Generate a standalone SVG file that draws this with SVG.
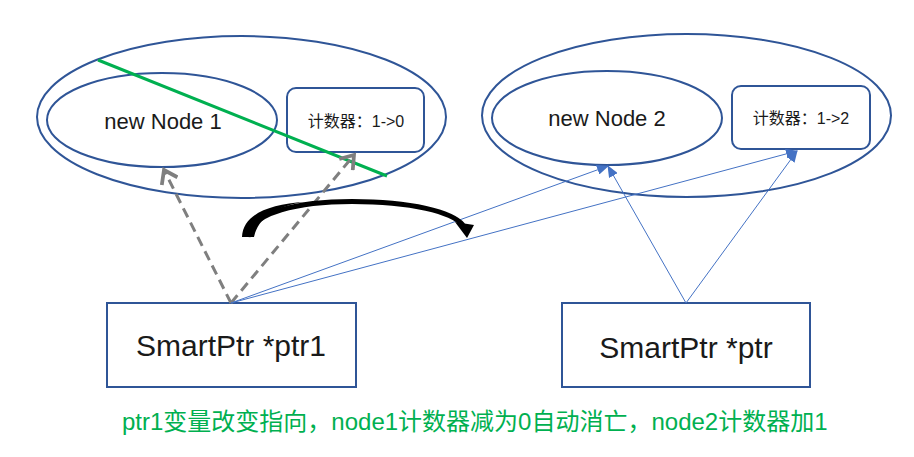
<svg xmlns="http://www.w3.org/2000/svg" width="914" height="457" viewBox="0 0 914 457">
<defs>
<style>
.shape{fill:#FFFFFF;stroke:#2F5597;stroke-width:2}
.lbl{font-family:"Liberation Sans","Noto Sans CJK SC",sans-serif;fill:#1A1A1A;text-anchor:middle}
.dash{fill:none;stroke:#7F7F7F;stroke-width:3;stroke-dasharray:10,6}
.blue{fill:none;stroke:#4472C4;stroke-width:1}
.note{font-family:"Liberation Sans","Noto Sans CJK SC",sans-serif;fill:#00B050}
</style>
<marker id="openArrow" markerUnits="userSpaceOnUse" markerWidth="20" markerHeight="20" refX="12" refY="8" orient="auto" viewBox="0 0 16 16">
<path d="M2,1 L12,8 L2,15" fill="none" stroke="#7F7F7F" stroke-width="3"/>
</marker>
<marker id="blueArrow" markerUnits="userSpaceOnUse" markerWidth="12" markerHeight="10" refX="11" refY="5" orient="auto" viewBox="0 0 12 10">
<path d="M0,0 L12,5 L0,10 Z" fill="#4472C4"/>
</marker>
</defs>
<rect width="914" height="457" fill="#FFFFFF"/>

<g id="node1-group">
<ellipse class="shape" cx="241.5" cy="117" rx="204.5" ry="81"/>
<g id="node1">
<ellipse class="shape" cx="162" cy="120" rx="115" ry="47"/>
<text class="lbl" x="163" y="129" font-size="22">new Node 1</text>
</g>
<g id="counter1">
<rect class="shape" x="287" y="88" width="137" height="64" rx="9"/>
<text class="lbl" x="356" y="127" font-size="16">计数器：1-&gt;0</text>
</g>
</g>

<g id="node2-group">
<ellipse class="shape" cx="686.5" cy="115.5" rx="204.5" ry="81.5"/>
<g id="node2">
<ellipse class="shape" cx="607" cy="118" rx="115" ry="47"/>
<text class="lbl" x="607" y="126" font-size="22">new Node 2</text>
</g>
<g id="counter2">
<rect class="shape" x="732" y="86" width="138" height="63" rx="9"/>
<text class="lbl" x="801" y="124" font-size="16">计数器：1-&gt;2</text>
</g>
</g>

<g id="ptr1">
<rect class="shape" x="107" y="303" width="249" height="84"/>
<text class="lbl" x="231" y="356" font-size="30" fill="#000">SmartPtr *ptr1</text>
</g>

<g id="ptr">
<rect class="shape" x="562" y="303" width="248" height="84"/>
<text class="lbl" x="686" y="358" font-size="30" fill="#000">SmartPtr *ptr</text>
</g>

<g id="connectors">
<line x1="98" y1="60" x2="387" y2="176" stroke="#00B050" stroke-width="3"/>
<line class="dash" x1="231" y1="303" x2="164" y2="170" marker-end="url(#openArrow)"/>
<line class="dash" x1="231" y1="303" x2="354" y2="155" marker-end="url(#openArrow)"/>
<line class="blue" x1="231" y1="303" x2="608" y2="166" marker-end="url(#blueArrow)"/>
<line class="blue" x1="231" y1="303" x2="797" y2="151" marker-end="url(#blueArrow)"/>
<line class="blue" x1="686" y1="303" x2="608" y2="166" marker-end="url(#blueArrow)"/>
<line class="blue" x1="686" y1="303" x2="797" y2="151" marker-end="url(#blueArrow)"/>
<g id="move-arrow">
<path d="M248,237 C250,212 300,201.5 352,201.5 C412,201.5 452,212 463,225" fill="none" stroke="#000" stroke-width="5"/>
<path d="M242,237 C243,215 268,204 305,202 C276,206 258,218 254,237 Z" fill="#000"/>
<path d="M455,222 L474,225 L467,238 Z" fill="#000"/>
</g>
</g>

<text class="note" x="122" y="430" font-size="24">ptr1变量改变指向，node1计数器减为0自动消亡，node2计数器加1</text>
</svg>
